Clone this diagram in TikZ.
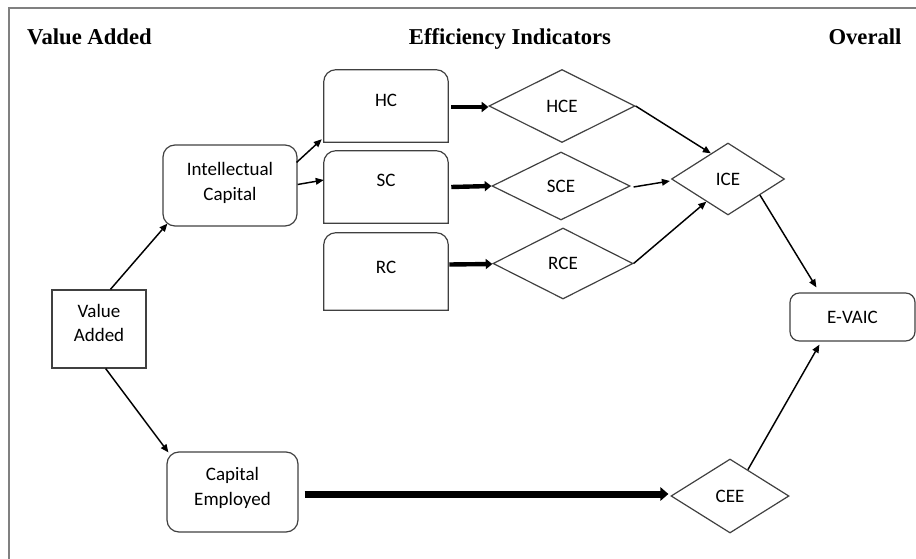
\documentclass[tikz,border=0pt]{standalone}
\usepackage{fontspec}
\setmainfont{Carlito}
\newfontfamily\headfont{Liberation Serif}
\usetikzlibrary{shapes.geometric,arrows.meta,calc}
\definecolor{edgegray}{HTML}{404040}
\definecolor{framegray}{HTML}{808080}
% rectangle whose top corners are rounded and bottom corners square
\newcommand\roundtopbox[1]{%
  \draw[edgegray,line width=0.9pt] (#1.east) -- (#1.south east) -- (#1.south west) -- (#1.west)
    [rounded corners=9pt] -- (#1.north west) -- (#1.north east) -- cycle;}
\begin{document}
\begin{tikzpicture}[x=0.75pt,y=-0.75pt,
  body/.style={font=\fontsize{14.25}{18.5}\selectfont, text=black, align=center, inner sep=0pt},
  sqbox/.style={draw=edgegray, line width=0.9pt, rectangle, inner sep=0pt},
  rbox/.style={sqbox, rounded corners=9pt},
  holder/.style={rectangle, inner sep=0pt, minimum width=93pt},
  dia/.style={draw=edgegray, line width=0.9pt, diamond, inner sep=0pt, body},
  headtext/.style={font=\headfont\bfseries\fontsize{17}{20}\selectfont, anchor=base, inner sep=0pt},
  conn/.style={line width=1.1pt, -{Triangle[length=6pt,width=5pt]}},
  fatlink/.style={line width=3.3pt, -{Triangle[length=5pt,width=7.5pt]}},
  fatterlink/.style={line width=5.25pt, -{Triangle[length=6pt,width=10pt]}}
]
\useasboundingbox (0,0) rectangle (916,559);

% frame
\draw[framegray, line width=1.5pt] (916,8) -- (9,8) -- (9,559);

% column headings
\node[headtext] (h1) at (89.5,45) {Value Added};
\node[headtext] (h2) at (510,45) {Efficiency Indicators};
\node[headtext] (h3) at (865,45) {Overall};

% value added
\node[sqbox, minimum width=70.5pt, minimum height=58.5pt] (va) at (99,329) {};
\node[body] (vat) at (99,323) {Value\\Added};

% capitals
\node[rbox, minimum width=100.5pt, minimum height=60.75pt] (ic) at (230,185.5) {};
\node[body] (ict) at (230,183) {Intellectual\\Capital};
\node[rbox, minimum width=98.25pt, minimum height=60pt] (ce) at (232.5,492) {};
\node[body] (cet) at (232.5,488) {Capital\\Employed};

% capital components
\node[holder, minimum height=54pt] (hc) at (386,106) {};
\node[holder, minimum height=54pt] (sc) at (386,187) {};
\node[holder, minimum height=57.75pt] (rc) at (386,271.5) {};
\roundtopbox{hc}
\roundtopbox{sc}
\roundtopbox{rc}
\node[body] (hct) at (386,100) {HC};
\node[body] (sct) at (386,180) {SC};
\node[body] (rct) at (386,267) {RC};

% efficiency indicators
\node[dia, minimum width=109.5pt, minimum height=54.75pt] (hce) at (562,106) {HCE};
\node[dia, minimum width=103.5pt, minimum height=51pt] (sce) at (561,186) {SCE};
\node[dia, minimum width=105pt, minimum height=53.25pt] (rce) at (563,263.5) {RCE};
\node[dia, minimum width=84.75pt, minimum height=54pt] (ice) at (728,179) {ICE};
\node[dia, minimum width=88.5pt, minimum height=55.5pt] (cee) at (730,496) {CEE};

% overall
\node[rbox, rounded corners=7pt, minimum width=93.75pt, minimum height=36pt, body] (ev) at (852.5,317) {E-VAIC};

% connectors
\draw[conn] ($(va.north west)!0.62!(va.north east)$) -- ($(ic.south west)+(5,-3)$);
\draw[conn] ($(va.south west)!0.57!(va.south east)$) -- ($(ce.north west)+(2,1)$);
\draw[conn] ($(ic.north east)+(-1,18)$) -- ($(hc.south west)+(-2,-3)$);
\draw[conn] ($(ic.east)+(0,-1)$) -- ($(sc.west)+(0,-7)$);

\draw[fatlink] ($(hc.east)+(3,1)$) -- ($(hce.west)+(0,1)$);
\draw[fatlink] ($(sc.east)+(3,0)$) -- (sce.west);
\draw[fatlink] ($(rc.east)+(1,-7)$) -- ($(rce.west)+(0,0.5)$);
\draw[fatterlink] ($(ce.east)+(6,2)$) -- ($(cee.west)+(-2,-2)$);

\draw[conn] (hce.east) -- ($(ice.west)!0.7!(ice.north)$);
\draw[conn] ($(sce.east)+(3,1)$) -- ($(ice.west)+(-1,2)$);
\draw[conn] (rce.east) -- ($(ice.west)!0.62!(ice.south)$);
\draw[conn] ($(ice.east)!0.44!(ice.south)$) -- ($(ev.north west)+(27,-5)$);
\draw[conn] ($(cee.north)!0.3!(cee.east)$) -- ($(ev.south west)+(30,3)$);
\end{tikzpicture}
\end{document}
